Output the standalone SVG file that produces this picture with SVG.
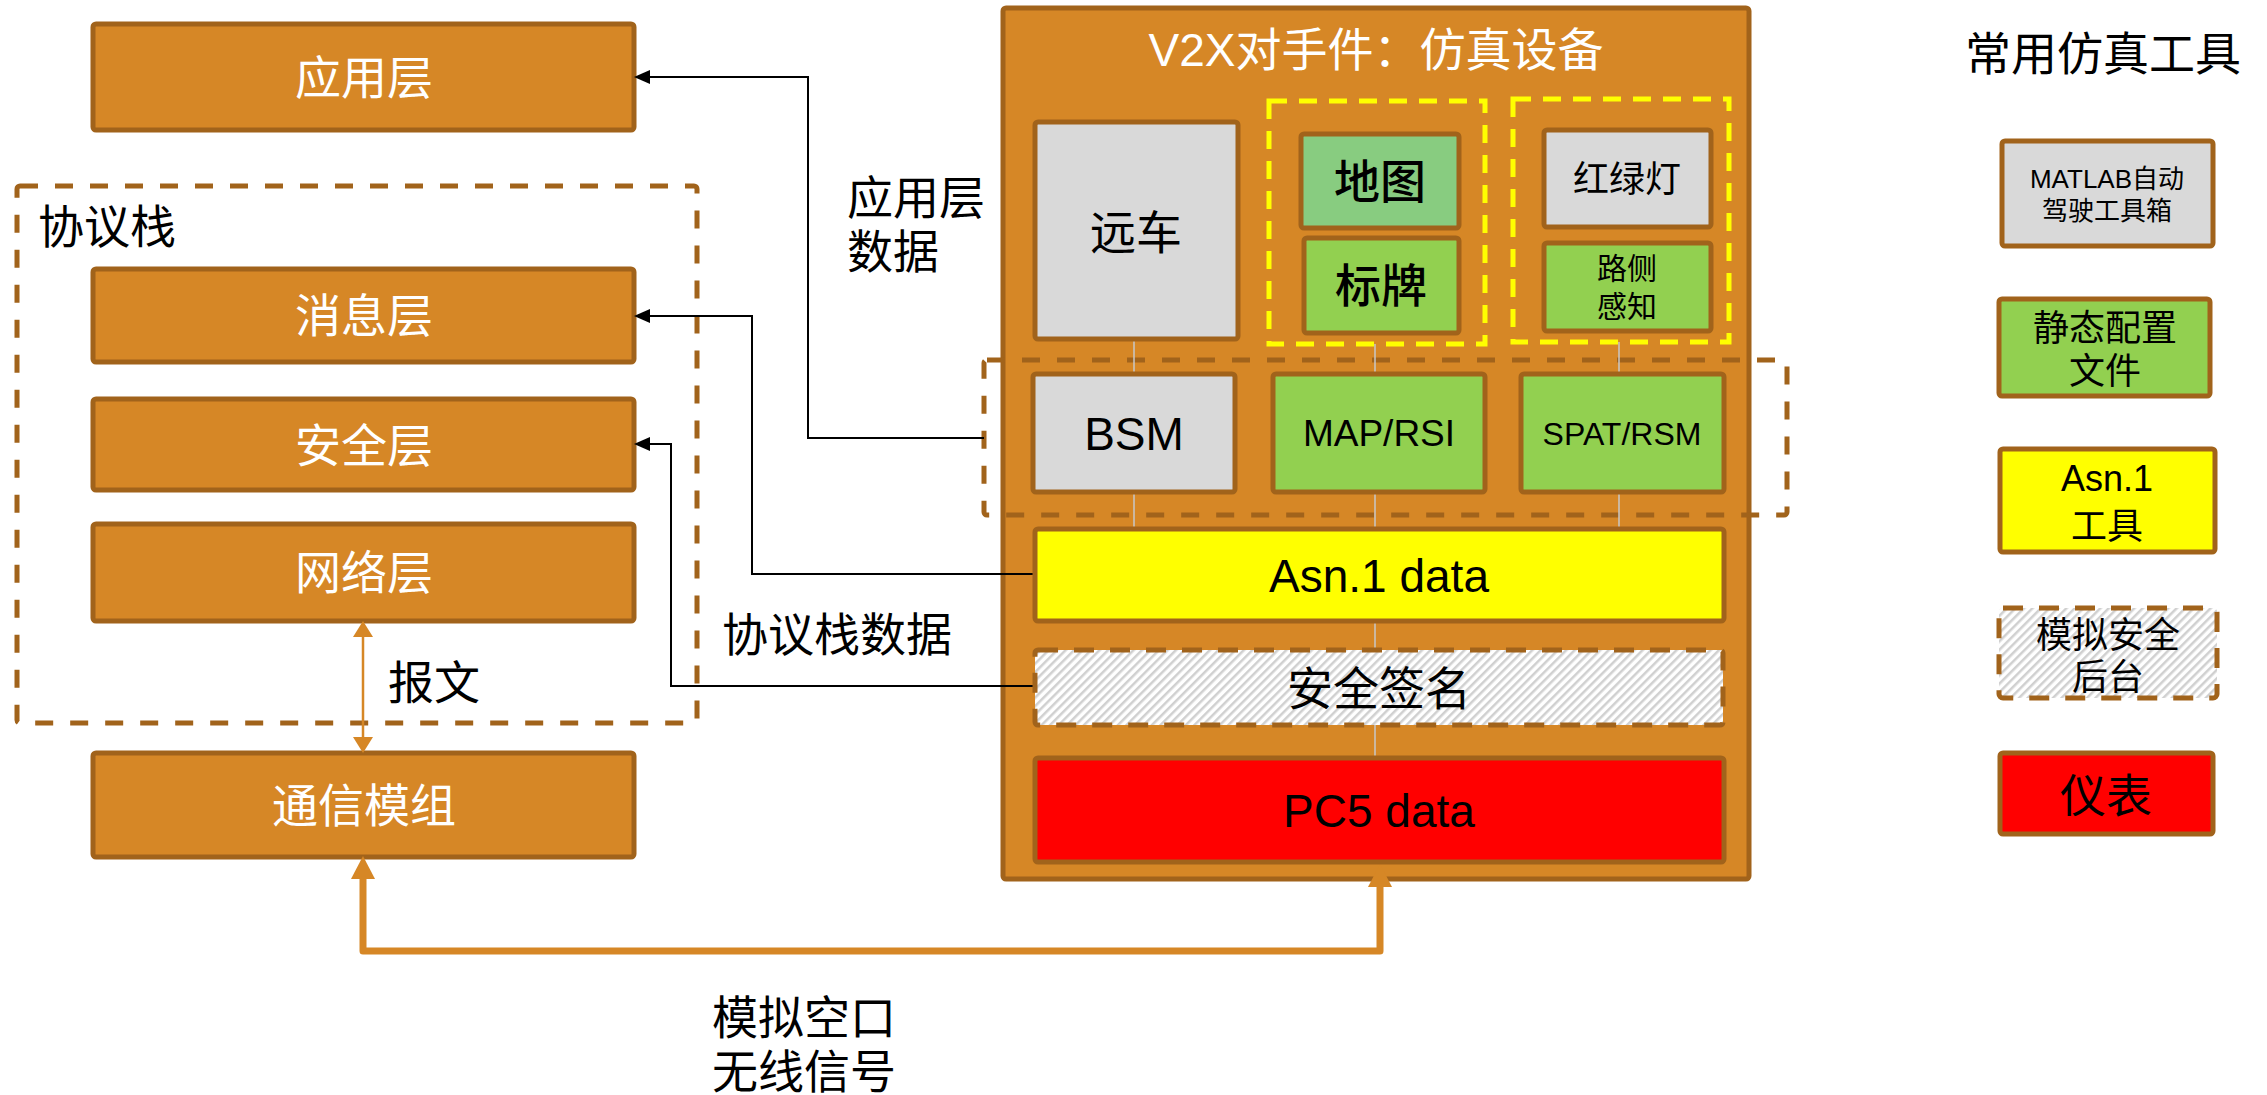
<svg xmlns="http://www.w3.org/2000/svg" width="2267" height="1095" viewBox="0 0 2267 1095">
<style>
text{font-family:"Liberation Sans","Noto Sans CJK SC",sans-serif;}
.ob{fill:#D68726;stroke:#A1631B;stroke-width:5;}
.gray{fill:#D9D9D9;stroke:#A1631B;stroke-width:5;}
.green{fill:#92D050;stroke:#A1631B;stroke-width:5;}
.lgreen{fill:#88CC80;stroke:#A1631B;stroke-width:5;}
.yel{fill:#FFFF00;stroke:#A1631B;stroke-width:5;}
.red{fill:#FF0000;stroke:#A1631B;stroke-width:5;}
.hatch{fill:url(#hp);stroke:#A1631B;stroke-width:5;stroke-dasharray:20 16;}
.bdash{fill:none;stroke:#A1631B;stroke-width:5;stroke-dasharray:18 17;}
.ydash{fill:none;stroke:#FFFF00;stroke-width:5;stroke-dasharray:18 12;}
.wt{fill:#FFFFFF;font-size:46px;text-anchor:middle;}
.bt{fill:#000000;text-anchor:middle;}
.lbl{fill:#000000;font-size:46px;}
.blk{fill:none;stroke:#000;stroke-width:2;}
.thin{fill:none;stroke:#C8C8C8;stroke-width:1.5;}
</style>
<defs>
<pattern id="hp" patternUnits="userSpaceOnUse" width="6" height="6" patternTransform="rotate(45)">
<rect width="6" height="6" fill="#FFFFFF"/>
<rect width="2.5" height="6" fill="#D0D0D0"/>
</pattern>
<marker id="ah" markerUnits="userSpaceOnUse" markerWidth="16" markerHeight="14" viewBox="0 0 16 14" refX="1" refY="7" orient="auto-start-reverse">
<path d="M0,0 L16,7 L0,14 z" fill="#000"/>
</marker>
<marker id="oh" markerUnits="userSpaceOnUse" markerWidth="16" markerHeight="20" viewBox="0 0 16 20" refX="1" refY="10" orient="auto-start-reverse">
<path d="M0,0 L16,10 L0,20 z" fill="#D68726"/>
</marker>
<marker id="obig" markerUnits="userSpaceOnUse" markerWidth="23" markerHeight="24" viewBox="0 0 23 24" refX="1" refY="12" orient="auto-start-reverse">
<path d="M0,0 L23,12 L0,24 z" fill="#D68726"/>
</marker>
</defs>
<rect width="2267" height="1095" fill="#FFFFFF"/>

<g id="stack-group">
<rect class="bdash" x="17" y="186" width="680" height="537" rx="3"/>
<text class="lbl" x="38" y="243">协议栈</text>
</g>

<g id="app-layer"><rect class="ob" x="93" y="24" width="541" height="106" rx="3"/><text class="wt" x="364" y="94">应用层</text></g>
<g id="msg-layer"><rect class="ob" x="93" y="269" width="541" height="93" rx="3"/><text class="wt" x="364" y="332">消息层</text></g>
<g id="sec-layer"><rect class="ob" x="93" y="399" width="541" height="91" rx="3"/><text class="wt" x="364" y="462">安全层</text></g>
<g id="net-layer"><rect class="ob" x="93" y="524" width="541" height="97" rx="3"/><text class="wt" x="364" y="589">网络层</text></g>
<g id="comm-module"><rect class="ob" x="93" y="753" width="541" height="104" rx="3"/><text class="wt" x="364" y="822">通信模组</text></g>

<g id="v2x-device">
<rect class="ob" x="1003" y="8" width="746" height="871" rx="3"/>
<text class="wt" x="1376" y="66" font-size="47">V2X对手件：仿真设备</text>
</g>
<g id="msg-group"><rect class="bdash" x="984" y="360" width="803" height="155" rx="3"/></g>
<g id="map-group"><rect class="ydash" x="1269" y="101" width="216" height="243"/></g>
<g id="light-group"><rect class="ydash" x="1513" y="99" width="216" height="243"/></g>

<g id="connectors">
<path class="thin" d="M1134,339 V374 M1134,492 V529 M1375,344 V374 M1375,492 V529 M1375,621 V650 M1375,725 V758 M1619,342 V374 M1619,492 V529"/>
<path class="blk" d="M984,438 H808 V77 H649" marker-end="url(#ah)"/>
<path class="blk" d="M1035,574 H752 V316 H649" marker-end="url(#ah)"/>
<path class="blk" d="M1035,686 H671 V444 H649" marker-end="url(#ah)"/>
<path d="M363,636 V738" fill="none" stroke="#D68726" stroke-width="2.5" marker-start="url(#oh)" marker-end="url(#oh)"/>
<path d="M363,878 V951 H1380 V886" fill="none" stroke="#D68726" stroke-width="7" stroke-linejoin="round" marker-start="url(#obig)" marker-end="url(#obig)"/>
<text class="lbl" x="388" y="699">报文</text>
<text class="lbl" x="847" y="214">应用层</text>
<text class="lbl" x="847" y="268">数据</text>
<text class="lbl" x="722" y="651">协议栈数据</text>
<text class="lbl" x="712" y="1034">模拟空口</text>
<text class="lbl" x="712" y="1088">无线信号</text>
</g>

<g id="remote-car"><rect class="gray" x="1035" y="122" width="203" height="217" rx="3"/><text class="bt" x="1136" y="249" font-size="46">远车</text></g>
<g id="map"><rect class="lgreen" x="1301" y="134" width="158" height="94" rx="3"/><text class="bt" x="1380" y="198" font-size="46" font-weight="500">地图</text></g>
<g id="sign"><rect class="green" x="1304" y="238" width="155" height="95" rx="3"/><text class="bt" x="1381" y="302" font-size="46" font-weight="500">标牌</text></g>
<g id="traffic-light"><rect class="gray" x="1544" y="130" width="167" height="97" rx="3"/><text class="bt" x="1627" y="192" font-size="36">红绿灯</text></g>
<g id="roadside"><rect class="green" x="1544" y="243" width="167" height="88" rx="3"/><text class="bt" x="1627" y="279" font-size="30">路侧</text><text class="bt" x="1627" y="317" font-size="30">感知</text></g>
<g id="bsm"><rect class="gray" x="1033" y="374" width="202" height="118" rx="3"/><text class="bt" x="1134" y="450" font-size="46">BSM</text></g>
<g id="map-rsi"><rect class="green" x="1273" y="374" width="212" height="118" rx="3"/><text class="bt" x="1379" y="446" font-size="37">MAP/RSI</text></g>
<g id="spat-rsm"><rect class="green" x="1521" y="374" width="203" height="118" rx="3"/><text class="bt" x="1622" y="445" font-size="32">SPAT/RSM</text></g>
<g id="asn-data"><rect class="yel" x="1035" y="529" width="689" height="92" rx="3"/><text class="bt" x="1379" y="592" font-size="46">Asn.1 data</text></g>
<g id="sec-sign"><rect class="hatch" x="1035" y="650" width="688" height="75" rx="3"/><text class="bt" x="1379" y="705" font-size="46">安全签名</text></g>
<g id="pc5-data"><rect class="red" x="1035" y="758" width="689" height="104" rx="3"/><text class="bt" x="1379" y="827" font-size="46">PC5 data</text></g>

<g id="legend-title"><text class="bt" x="2103" y="70" font-size="46">常用仿真工具</text></g>
<g id="legend-matlab"><rect class="gray" x="2002" y="141" width="211" height="105" rx="3"/><text class="bt" x="2107" y="188" font-size="26">MATLAB自动</text><text class="bt" x="2107" y="220" font-size="26">驾驶工具箱</text></g>
<g id="legend-static"><rect class="green" x="1999" y="299" width="211" height="97" rx="3"/><text class="bt" x="2105" y="341" font-size="36">静态配置</text><text class="bt" x="2105" y="384" font-size="36">文件</text></g>
<g id="legend-asn"><rect class="yel" x="2000" y="449" width="215" height="103" rx="3"/><text class="bt" x="2107" y="491" font-size="36">Asn.1</text><text class="bt" x="2107" y="539" font-size="36">工具</text></g>
<g id="legend-sec"><rect class="hatch" x="1999" y="608" width="218" height="90" rx="4"/><text class="bt" x="2108" y="648" font-size="36">模拟安全</text><text class="bt" x="2108" y="690" font-size="36">后台</text></g>
<g id="legend-meter"><rect class="red" x="2000" y="753" width="213" height="81" rx="3"/><text class="bt" x="2106" y="812" font-size="46">仪表</text></g>
</svg>
